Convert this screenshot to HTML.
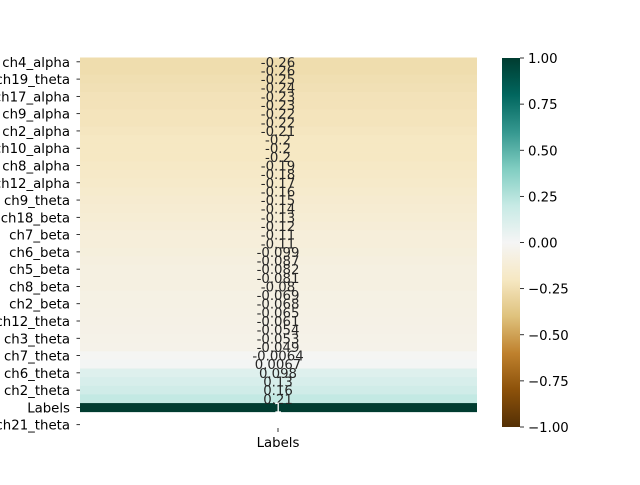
<!DOCTYPE html>
<html><head><meta charset="utf-8"><style>
html,body{margin:0;padding:0;background:#fff}
text{font-family:"DejaVu Sans","Liberation Sans",sans-serif}
</style></head><body>
<svg width="640" height="480" viewBox="0 0 640 480" xmlns="http://www.w3.org/2000/svg">
<defs>
<linearGradient id="cb" x1="0" y1="1" x2="0" y2="0">
<stop offset="0" stop-color="#543005"/><stop offset="0.1" stop-color="#8c510a"/><stop offset="0.2" stop-color="#bf812d"/><stop offset="0.3" stop-color="#dfc27d"/><stop offset="0.4" stop-color="#f6e8c3"/><stop offset="0.5" stop-color="#f5f5f5"/><stop offset="0.6" stop-color="#c7eae5"/><stop offset="0.7" stop-color="#80cdc1"/><stop offset="0.8" stop-color="#35978f"/><stop offset="0.9" stop-color="#01665e"/><stop offset="1" stop-color="#003c30"/>
</linearGradient>
</defs>
<g id="cells"></g>
<g id="annots"></g>
<g id="yaxis"></g>
<g>
<line x1="278" y1="428" x2="278" y2="432" stroke="#000" stroke-width="0.8"/>
<text x="278" y="447" font-size="13.3" text-anchor="middle">Labels</text>
</g>
<g>
<rect x="502" y="58" width="18" height="369" fill="url(#cb)"/>
<g id="cbticks"></g>
</g>
</svg>
<script>
const rowNames = ["ch4_alpha","","ch19_theta","","ch17_alpha","","ch9_alpha","","ch2_alpha","","ch10_alpha","","ch8_alpha","","ch12_alpha","","ch9_theta","","ch18_beta","","ch7_beta","","ch6_beta","","ch5_beta","","ch8_beta","","ch2_beta","","ch12_theta","","ch3_theta","","ch7_theta","","ch6_theta","","ch2_theta","","Labels","","ch21_theta"];
const values = [-0.26,-0.26,-0.25,-0.24,-0.23,-0.23,-0.22,-0.22,-0.21,-0.2,-0.2,-0.2,-0.19,-0.18,-0.17,-0.16,-0.15,-0.14,-0.13,-0.12,-0.11,-0.11,-0.099,-0.087,-0.082,-0.081,-0.08,-0.069,-0.068,-0.065,-0.061,-0.054,-0.053,-0.049,-0.0064,0.0067,0.098,0.13,0.16,0.21,1,null,null];
const labelsShown = ["-0.26","-0.26","-0.25","-0.24","-0.23","-0.23","-0.22","-0.22","-0.21","-0.2","-0.2","-0.2","-0.19","-0.18","-0.17","-0.16","-0.15","-0.14","-0.13","-0.12","-0.11","-0.11","-0.099","-0.087","-0.082","-0.081","-0.08","-0.069","-0.068","-0.065","-0.061","-0.054","-0.053","-0.049","-0.0064","0.0067","0.098","0.13","0.16","0.21","1","",""];
const cbTicks = [1,0.75,0.5,0.25,0,-0.25,-0.5,-0.75,-1];
const cbLabels = ["1.00","0.75","0.50","0.25","0.00","\u22120.25","\u22120.50","\u22120.75","\u22121.00"];

const NS="http://www.w3.org/2000/svg";
const top0=57.5, bot0=429, left0=80, right0=477;
const cbTop=58, cbBot=427;
const rowH=(bot0-top0)/values.length;
function yRow(i){return top0+i*rowH;}
function yCb(v){return cbTop+(1-v)/2*(cbBot-cbTop);}
const stops=[[84,48,5],[140,81,10],[191,129,45],[223,194,125],[246,232,195],[245,245,245],[199,234,229],[128,205,193],[53,151,143],[1,102,94],[0,60,48]];
function color(v){let t=(v+1)/2*10;let i=Math.min(9,Math.floor(t));let f=t-i;const a=stops[i],b=stops[i+1];return "rgb("+a.map((c,k)=>Math.round(c+(b[k]-c)*f)).join(",")+")";}
function lum(v){let t=(v+1)/2;return t<0.15||t>0.8;}
const cells=document.getElementById('cells'),ann=document.getElementById('annots'),ya=document.getElementById('yaxis');
values.forEach((v,i)=>{
 if(v!==null){
  const r=document.createElementNS(NS,'rect');
  r.setAttribute('x',left0);r.setAttribute('y',yRow(i));r.setAttribute('width',right0-left0);r.setAttribute('height',rowH+0.4);r.setAttribute('fill',color(v));
  
  
  cells.appendChild(r);
  const t=document.createElementNS(NS,'text');
  t.setAttribute('x',278);t.setAttribute('y',yRow(i)+rowH/2+5);t.setAttribute('font-size','13.3');t.setAttribute('text-anchor','middle');
  t.setAttribute('fill',lum(v)?'#fff':'#262626');
  t.textContent=labelsShown[i];
  
  
  ann.appendChild(t);
 }
 if(rowNames[i]){
  const yc=yRow(i)+rowH/2;
  const l=document.createElementNS(NS,'line');
  l.setAttribute('x1',76.5);l.setAttribute('x2',80);l.setAttribute('y1',yc);l.setAttribute('y2',yc);l.setAttribute('stroke','#000');l.setAttribute('stroke-width','0.8');
  
  
  ya.appendChild(l);
  const t=document.createElementNS(NS,'text');
  t.setAttribute('x',70);t.setAttribute('y',yc+5);t.setAttribute('font-size','13.3');t.setAttribute('text-anchor','end');
  t.textContent=rowNames[i];
  
  
  ya.appendChild(t);
 }
});
const cb=document.getElementById('cbticks');
cbTicks.forEach((v,i)=>{
 const y=yCb(v);
 const l=document.createElementNS(NS,'line');
 l.setAttribute('x1',520);l.setAttribute('x2',524);l.setAttribute('y1',y);l.setAttribute('y2',y);l.setAttribute('stroke','#000');l.setAttribute('stroke-width','0.8');
 
 
 cb.appendChild(l);
 const t=document.createElementNS(NS,'text');
 t.setAttribute('x',528);t.setAttribute('y',y+5);t.setAttribute('font-size','13.3');
 t.textContent=cbLabels[i];
 
 
 cb.appendChild(t);
});
</script>
</body></html>
